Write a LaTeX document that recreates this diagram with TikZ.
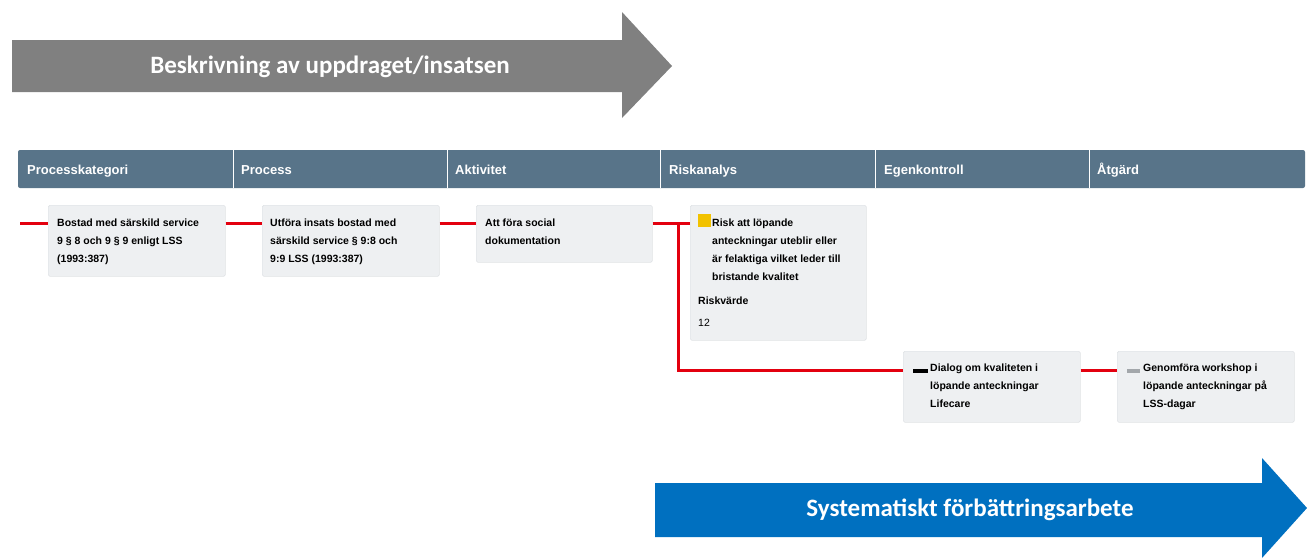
\documentclass[tikz,border=0pt]{standalone}
\usepackage{fontspec}
\setmainfont{Liberation Sans}
\newfontfamily\arrowfont{Carlito}
\usetikzlibrary{positioning}
\definecolor{headblue}{HTML}{587489}
\definecolor{arrowgray}{HTML}{808080}
\definecolor{arrowblue}{HTML}{0070C0}
\definecolor{lineRed}{HTML}{E3000F}
\definecolor{cardgray}{HTML}{EEF0F2}
\definecolor{cardedge}{HTML}{E0E3E6}
\definecolor{riskyellow}{HTML}{F2C200}
\definecolor{dashgray}{HTML}{A3A7AB}

\begin{document}
\begin{tikzpicture}[x=1pt,y=-1pt,
    card/.style={fill=cardgray, draw=cardedge, line width=.6pt, rounded corners=1.5pt, inner sep=0pt, anchor=north west},
    cardtext/.style={anchor=north west, inner sep=0pt, align=left, font=\bfseries\fontsize{10.5}{18}\selectfont},
    headtext/.style={anchor=base west, inner sep=0pt, text=white, font=\bfseries\fontsize{13}{15}\selectfont},
    redline/.style={draw=lineRed, line width=3pt},
    bigtext/.style={text=white, font=\arrowfont\bfseries\fontsize{25}{30}\selectfont}]
  \useasboundingbox (0,0) rectangle (1307,558);

  % big arrows
  \fill[arrowgray] (12,40) -- (622,40) -- (622,12) -- (672,66) -- (622,118) -- (622,92) -- (12,92) -- cycle;
  \node[bigtext] (desc) at (330,67) {Beskrivning av uppdraget/insatsen};
  \fill[arrowblue] (655,483) -- (1262,483) -- (1262,458) -- (1307,508) -- (1262,558) -- (1262,537) -- (655,537) -- cycle;
  \node[bigtext] (sfa) at (970,510) {Systematiskt förbättringsarbete};

  % header
  \fill[headblue, rounded corners=2pt] (18,150) rectangle (1305,188);
  \foreach \x in {233,447,660,875,1089}
    \draw[white, line width=1pt] (\x,150) -- (\x,188);
  \node[headtext] (hcat)  at (27,174.5)   {Processkategori};
  \node[headtext] (hproc) at (241,174.5)  {Process};
  \node[headtext] (hakt)  at (455,174.5)  {Aktivitet};
  \node[headtext] (hrisk) at (669,174.5)  {Riskanalys};
  \node[headtext] (hegen) at (884,174.5)  {Egenkontroll};
  \node[headtext] (hatg)  at (1097,174.5) {Åtgärd};

  % cards
  \node[card, minimum width=177pt, minimum height=71pt]  (cat)   at (48,205)   {};
  \node[card, minimum width=177pt, minimum height=71pt]  (proc)  at (262,205)  {};
  \node[card, minimum width=176pt, minimum height=57pt]  (akt)   at (476,205)  {};
  \node[card, minimum width=176pt, minimum height=135pt] (risk)  at (690,205)  {};
  \node[card, minimum width=177pt, minimum height=71pt]  (dial)  at (903,351)  {};
  \node[card, minimum width=177pt, minimum height=71pt]  (work)  at (1117,351) {};

  \node[cardtext] (cattxt) at ([xshift=9pt,yshift=-14pt]cat.north west)
    {Bostad med särskild service\\9 § 8 och 9 § 9 enligt LSS\\(1993:387)};
  \node[cardtext] (proctxt) at ([xshift=8pt,yshift=-14pt]proc.north west)
    {Utföra insats bostad med\\särskild service § 9:8 och\\9:9 LSS (1993:387)};
  \node[cardtext] (akttxt) at ([xshift=9pt,yshift=-14pt]akt.north west)
    {Att föra social\\dokumentation};

  \fill[riskyellow] (698,214) rectangle (711,227);
  \node[cardtext] (risktxt) at ([xshift=22pt,yshift=-14pt]risk.north west)
    {Risk att löpande\\anteckningar uteblir eller\\är felaktiga vilket leder till\\bristande kvalitet};
  \node[cardtext] (riskval) at ([xshift=8pt,yshift=-92pt]risk.north west) {Riskvärde};
  \node[cardtext, font=\fontsize{10.5}{18}\selectfont] (risknum) at ([xshift=8pt,yshift=-114pt]risk.north west) {12};

  \fill[black] (913,369) rectangle (928,372.5);
  \node[cardtext] (dialtxt) at ([xshift=27pt,yshift=-13pt]dial.north west)
    {Dialog om kvaliteten i\\löpande anteckningar\\Lifecare};
  \fill[dashgray] (1127,369) rectangle (1140,372.5);
  \node[cardtext] (worktxt) at ([xshift=26pt,yshift=-13pt]work.north west)
    {Genomföra workshop i\\löpande anteckningar på\\LSS-dagar};

  % red connectors
  \coordinate (start) at (20,223);
  \coordinate (branch) at (678,223);
  \draw[redline] (start) -- ([yshift=-18pt]cat.north west);
  \draw[redline] ([yshift=-18pt]cat.north east) -- ([yshift=-18pt]proc.north west);
  \draw[redline] ([yshift=-18pt]proc.north east) -- ([yshift=-18pt]akt.north west);
  \draw[redline] ([yshift=-18pt]akt.north east) -- ([yshift=-18pt]risk.north west);
  \draw[redline] (branch) |- ([yshift=-19pt]dial.north west);
  \draw[redline] ([yshift=-19pt]dial.north east) -- ([yshift=-19pt]work.north west);
\end{tikzpicture}
\end{document}
